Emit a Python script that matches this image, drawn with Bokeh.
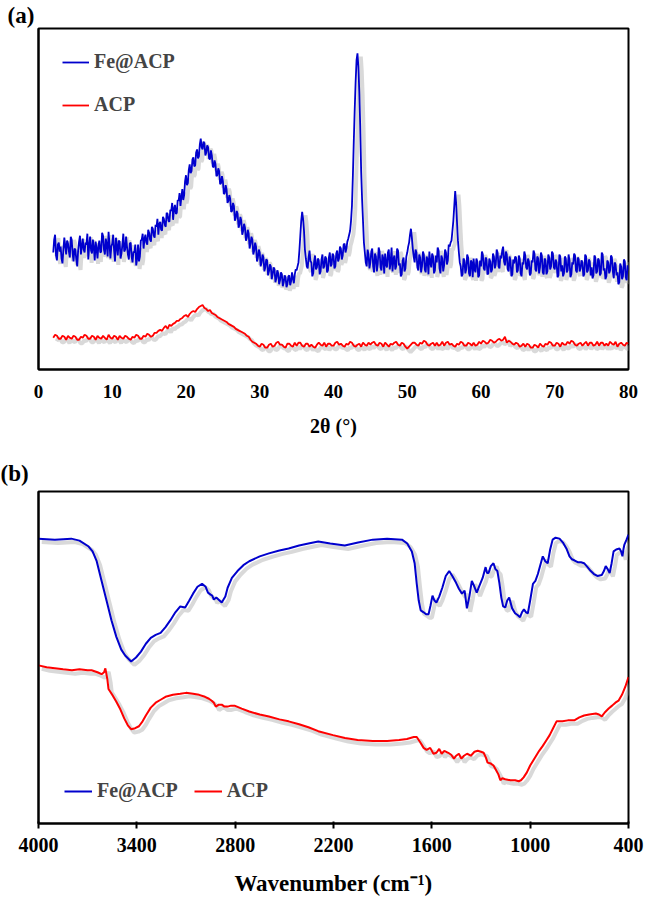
import numpy as np
from bokeh.plotting import figure
from bokeh.models import Range1d, FixedTicker, Legend, LegendItem, ColumnDataSource
from bokeh.layouts import column
from bokeh.transform import dodge
from bokeh.embed import file_html
from bokeh.resources import INLINE

FONT = "Liberation Serif"

# ---------------- (a) XRD data (2θ in degrees, intensity in a.u.) ----------------
xrd_theta_fe = np.arange(2.0, 80.001, 0.125)
xrd_fe_acp = [
    118, 131, 136, 115, 110, 126, 128, 119,  124, 112, 107, 121, 133, 125, 116, 130,
    127, 119, 113, 134, 131, 117, 109, 122,  121, 111, 104, 120, 129, 135, 116, 124,
    132, 121, 118, 128, 126, 137, 111, 125,  134, 120, 117, 131, 123, 110, 129, 122,
    112, 125, 130, 118, 119, 138, 135, 121,  116, 132, 126, 114, 139, 127, 112, 124,
    127, 136, 120, 109, 133, 124, 115, 130,  129, 112, 117, 126, 137, 119, 121, 134,
    124, 116, 111, 127, 128, 114, 108, 119,  118, 126, 105, 112, 126, 109, 114, 130,
    131, 137, 122, 132, 136, 128, 126, 141,  138, 131, 129, 144, 142, 135, 133, 146,
    144, 152, 136, 147, 149, 141, 140, 154,  152, 146, 144, 158, 157, 150, 149, 161,
    160, 168, 151, 162, 166, 157, 158, 171,  170, 178, 165, 174, 182, 171, 176, 190,
    196, 186, 188, 201, 207, 198, 200, 212,  214, 205, 206, 219, 222, 213, 215, 227,
    233, 224, 222, 230, 228, 216, 219, 226,  224, 213, 212, 221, 216, 205, 204, 211,
    207, 195, 196, 203, 200, 187, 188, 195,  190, 177, 178, 186, 182, 168, 170, 176,
    172, 159, 160, 168, 165, 150, 153, 160,  157, 143, 146, 154, 150, 136, 140, 147,
    143, 130, 133, 141, 137, 122, 127, 134,  131, 116, 120, 128, 124, 109, 113, 121,
    118, 104, 108, 116, 113, 99, 103, 111,  110, 95, 99, 106, 104, 91, 96, 103,
    101, 88, 92, 100, 97, 86, 90, 98,  96, 84, 88, 95, 93, 83, 86, 94,
    95, 85, 89, 98, 92, 87, 96, 101,  100, 104, 108, 120, 135, 150, 159, 152,
    140, 121, 112, 104, 102, 113, 120, 109,  108, 94, 97, 109, 115, 101, 103, 112,
    110, 96, 99, 111, 116, 102, 104, 114,  112, 98, 100, 113, 118, 104, 106, 117,
    115, 102, 104, 117, 120, 109, 112, 124,  122, 111, 115, 126, 127, 118, 122, 129,
    132, 136, 140, 150, 165, 195, 230, 262,  290, 312, 319, 305, 280, 245, 200, 172,
    150, 128, 118, 108, 104, 121, 116, 102,  108, 119, 122, 104, 98, 117, 114, 99,
    106, 123, 119, 103, 100, 116, 112, 97,  117, 106, 103, 118, 121, 101, 108, 123,
    99, 111, 115, 101, 104, 122, 120, 105,  107, 94, 96, 110, 113, 99, 102, 114,
    118, 124, 128, 136, 142, 133, 122, 114,  108, 121, 118, 103, 100, 116, 113, 98,
    104, 119, 116, 101, 98, 114, 111, 96,  119, 108, 103, 117, 114, 97, 100, 115,
    108, 123, 120, 102, 97, 115, 112, 99,  105, 121, 118, 106, 110, 126, 124, 128,
    130, 140, 150, 165, 180, 168, 148, 130,  118, 108, 104, 94, 96, 112, 110, 97,
    101, 116, 113, 97, 94, 110, 108, 93,  112, 101, 98, 112, 109, 93, 95, 110,
    104, 119, 116, 102, 100, 113, 111, 96,  97, 112, 109, 98, 101, 117, 114, 102,
    106, 121, 118, 104, 102, 115, 112, 120,  124, 109, 105, 119, 116, 101, 99, 114,
    110, 94, 96, 111, 107, 114, 113, 98,  100, 115, 112, 97, 94, 108, 106, 119,
    115, 103, 101, 112, 109, 95, 97, 110,  108, 120, 117, 101, 99, 114, 112, 97,
    103, 118, 115, 98, 96, 112, 110, 96,  99, 116, 113, 101, 104, 119, 117, 103,
    101, 111, 108, 93, 95, 116, 114, 99,  105, 94, 97, 114, 112, 98, 100, 116,
    110, 93, 96, 108, 106, 117, 115, 100,  98, 113, 111, 99, 102, 110, 108, 94,
    96, 116, 114, 98, 100, 111, 109, 95,  103, 92, 95, 115, 113, 97, 99, 112,
    110, 95, 97, 118, 116, 100, 102, 91,  94, 110, 108, 97, 100, 115, 113, 99,
    92, 108, 106, 95, 98, 86, 88, 107,  104, 91, 94, 111, 109, 93, 90, 105,
    100,
]
xrd_theta_acp = np.arange(2.0, 80.001, 0.25)
xrd_acp = [
    32, 35, 34, 31,  31, 34, 33, 30,  34, 32, 31, 34,  33, 30, 30, 33,  32, 35, 34, 31,
    31, 34, 33, 30,  34, 32, 31, 34,  32, 30, 35, 32,  31, 34, 33, 30,  34, 32, 31, 34,
    33, 31, 30, 33,  32, 35, 34, 31,  31, 34, 33, 36,  35, 33, 34, 37,  37, 39, 40, 39,
    42, 44, 41, 45,  44, 46, 47, 49,  49, 51, 52, 54,  55, 53, 56, 58,  59, 58, 61, 63,
    64, 65, 62, 61,  59, 60, 57, 56,  55, 53, 52, 51,  50, 49, 48, 46,  45, 44, 43, 41,
    40, 39, 38, 37,  36, 34, 33, 30,  28, 27, 26, 24,  23, 26, 25, 22,  22, 25, 26, 23,
    24, 27, 28, 25,  25, 23, 22, 26,  26, 24, 23, 27,  24, 27, 27, 24,  23, 26, 26, 23,
    25, 23, 22, 25,  27, 25, 24, 27,  23, 26, 26, 24,  24, 27, 28, 25,  26, 24, 23, 26,
    25, 28, 27, 24,  23, 25, 26, 23,  27, 25, 24, 27,  25, 27, 28, 25,  24, 27, 26, 23,
    27, 25, 23, 26,  25, 27, 28, 25,  24, 27, 26, 23,  21, 23, 25, 27,  27, 25, 24, 27,
    26, 29, 28, 25,  24, 26, 27, 24,  27, 24, 25, 28,  24, 27, 28, 25,  26, 24, 23, 26,
    25, 28, 27, 24,  24, 27, 26, 24,  27, 24, 25, 28,  26, 29, 28, 26,  27, 30, 29, 27,
    28, 30, 31, 29,  30, 33, 27, 29,  28, 26, 25, 27,  26, 23, 24, 26,  23, 26, 25, 22,
    22, 25, 24, 22,  26, 24, 23, 26,  25, 28, 27, 24,  24, 27, 26, 23,  27, 25, 25, 28,
    26, 29, 28, 25,  24, 26, 27, 24,  26, 28, 24, 27,  27, 24, 25, 28,  24, 27, 27, 24,
    26, 24, 28, 26,  25, 28, 23, 26,  27, 25, 24, 27,  26,
]
xrd_ticks = [0, 10, 20, 30, 40, 50, 60, 70, 80]

# ---------------- (b) FTIR data (wavenumber in cm-1, transmittance in a.u.) ----------------
ftir_wn_fe = [
    4000, 3900, 3800, 3750, 3694, 3670, 3645, 3615, 3585, 3555, 3525, 3495, 3471, 3435,
    3405, 3375, 3345, 3315, 3285, 3255, 3225, 3195, 3165, 3135, 3105, 3080, 3057, 3030,
    3002, 2980, 2966, 2950, 2940, 2930, 2915, 2882, 2860, 2846, 2820, 2786, 2750, 2714,
    2650, 2594, 2530, 2474, 2410, 2353, 2293, 2220, 2131, 2050, 1960, 1873, 1782, 1750,
    1722, 1705, 1692, 1680, 1668, 1650, 1635, 1620, 1608, 1596, 1584, 1572, 1555, 1536,
    1515, 1494, 1475, 1452, 1435, 1416, 1400, 1386, 1370, 1356, 1340, 1326, 1310, 1290,
    1272, 1263, 1254, 1240, 1224, 1212, 1200, 1188, 1176, 1165, 1152, 1140, 1128, 1110,
    1092, 1075, 1062, 1050, 1038, 1025, 1014, 1000, 983, 968, 953, 940, 923, 908, 893,
    878, 863, 845, 821, 800, 779, 760, 745, 731, 710, 690, 671, 650, 630, 611, 590, 563,
    550, 539, 527, 515, 503, 491, 475, 455, 445, 437, 430, 425, 412, 400,
]
ftir_fe_acp = [
    290, 289, 290, 288, 282, 277, 267, 247, 227, 207, 190, 177, 171, 165,
    169, 175, 183, 189, 192, 194, 200, 207, 215, 221, 220, 227, 234, 241,
    244, 241, 235, 233, 232, 228, 230, 225, 231, 240, 250, 257, 263, 267,
    272, 275, 278, 280, 283, 285, 287, 285, 283, 286, 289, 290, 289, 285,
    277, 265, 244, 227, 217, 215, 213, 213, 222, 232, 227, 225, 231, 240,
    252, 257, 252, 245, 239, 234, 237, 219, 232, 247, 241, 235, 242, 250,
    261, 255, 255, 262, 265, 259, 257, 245, 230, 221, 220, 227, 230, 219,
    214, 212, 210, 215, 218, 215, 214, 227, 244, 247, 254, 262, 272, 267, 265,
    279, 289, 291, 290, 286, 280, 272, 269, 268, 266, 266, 265, 261, 257, 254, 252, 253,
    257, 262, 259, 255, 265, 277, 279, 280, 277, 272, 280, 284, 289, 294,
]
ftir_wn_acp = [
    4000, 3950, 3900, 3850, 3796, 3750, 3700, 3676, 3640, 3615, 3600, 3592, 3580, 3573,
    3550, 3525, 3500, 3477, 3455, 3435, 3410, 3387, 3365, 3345, 3315, 3285, 3255, 3225,
    3180, 3135, 3100, 3057, 3020, 2984, 2960, 2943, 2930, 2918, 2900, 2882, 2865, 2846,
    2825, 2804, 2760, 2714, 2650, 2594, 2530, 2474, 2410, 2353, 2293, 2203, 2130, 2053,
    1960, 1873, 1800, 1752, 1710, 1692, 1680, 1668, 1650, 1632, 1610, 1590, 1572, 1555,
    1540, 1524, 1500, 1482, 1465, 1452, 1435, 1420, 1404, 1385, 1362, 1340, 1320, 1300,
    1284, 1270, 1260, 1240, 1224, 1210, 1194, 1182, 1170, 1152, 1120, 1092, 1070, 1056,
    1040, 1020, 1000, 971, 945, 923, 900, 881, 860, 839, 820, 803, 770, 731, 700, 671,
    640, 599, 580, 563, 545, 521, 500, 480, 461, 440, 420, 400,
]
ftir_acp = [
    161, 159, 158, 157, 156, 157, 156, 156, 154, 152, 154, 158, 147, 137,
    131, 124, 116, 107, 100, 96, 97, 99, 104, 110, 118, 123, 126, 129,
    131, 132, 133, 132, 131, 129, 127, 125, 123, 119, 121, 121, 119, 119,
    120, 120, 117, 114, 111, 109, 106, 104, 101, 98, 94, 90, 87, 85,
    84, 84, 85, 86, 88, 88, 85, 82, 77, 75, 77, 71, 72, 76,
    71, 74, 72, 70, 66, 69, 71, 66, 69, 71, 69, 73, 74, 73,
    72, 67, 62, 61, 59, 55, 50, 44, 46, 45, 44, 44, 43, 44,
    47, 52, 59, 67, 74, 79, 85, 90, 97, 104, 104, 104, 105, 105, 108, 110,
    111, 112, 111, 109, 113, 117, 120, 123, 125, 131, 139, 149,
]
ftir_ticks = [4000, 3400, 2800, 2200, 1600, 1000, 400]

BLUE = "#0000CD"
RED = "#FF0000"
SHADOW = "#b4b4b4"


def style(p, ticks, tick_font, tick_in, tick_out, label_standoff):
    p.xgrid.visible = False
    p.ygrid.visible = False
    p.outline_line_color = "black"
    p.outline_line_width = 2
    p.xaxis.ticker = FixedTicker(ticks=ticks)
    p.xaxis.minor_tick_line_color = None
    p.xaxis.major_tick_in = tick_in
    p.xaxis.major_tick_out = tick_out
    p.xaxis.major_tick_line_width = 2
    p.xaxis.axis_line_width = 2
    p.xaxis.major_label_text_font = FONT
    p.xaxis.major_label_text_font_style = "bold"
    p.xaxis.major_label_text_font_size = tick_font
    p.xaxis.major_label_text_color = "black"
    p.xaxis.major_label_standoff = label_standoff
    p.xaxis.axis_label_text_font = FONT
    p.xaxis.axis_label_text_font_style = "bold"
    p.xaxis.axis_label_text_color = "black"
    p.yaxis.ticker = FixedTicker(ticks=[])
    p.yaxis.minor_tick_line_color = None
    p.yaxis.major_tick_line_color = None
    p.yaxis.major_label_text_font_size = "0px"
    p.yaxis.axis_line_width = 2


def panel_title(p, text, offset, standoff):
    p.title.text = text
    p.title.align = "left"
    p.title.offset = offset
    p.title.standoff = standoff
    p.title.text_font = FONT
    p.title.text_font_style = "bold"
    p.title.text_font_size = "23px"
    p.title.text_color = "black"


# ---------------- panel (a) ----------------
p1 = figure(width=645, height=447, x_range=Range1d(0, 80), y_range=Range1d(0, 344),
            output_backend="svg", toolbar_location=None,
            min_border_left=31, min_border_right=17, min_border_top=25, min_border_bottom=78)
style(p1, xrd_ticks, "19px", 0, 0, 15)
panel_title(p1, "(a)", -31, 1)
p1.xaxis.axis_label = "2θ (°)"
p1.xaxis.axis_label_text_font_size = "20px"
p1.xaxis.axis_label_standoff = 14

src_fe = ColumnDataSource(dict(x=xrd_theta_fe, y=xrd_fe_acp))
src_acp = ColumnDataSource(dict(x=xrd_theta_acp, y=xrd_acp))
for src in (src_fe, src_acp):
    p1.line(x=dodge("x", 0.45), y=dodge("y", -3.5), source=src, line_color=SHADOW,
            line_width=4, line_alpha=0.5)
r1b = p1.line("x", "y", source=src_fe, line_color=BLUE, line_width=1.8)
r1r = p1.line("x", "y", source=src_acp, line_color=RED, line_width=1.8)

leg1 = Legend(items=[LegendItem(label="Fe@ACP", renderers=[r1b]),
                     LegendItem(label="ACP", renderers=[r1r])],
              location=(24, 253), orientation="vertical",
              label_text_font=FONT, label_text_font_style="bold", label_text_font_size="20px",
              glyph_width=27, glyph_height=20, label_height=20, spacing=20,
              padding=0, margin=0, border_line_color=None, background_fill_alpha=0,
              label_standoff=5)
p1.add_layout(leg1)

# ---------------- panel (b) ----------------
p2 = figure(width=645, height=451, x_range=Range1d(4000, 400), y_range=Range1d(0, 338),
            output_backend="svg", toolbar_location=None,
            min_border_left=38, min_border_right=15, min_border_top=44, min_border_bottom=69)
style(p2, ftir_ticks, "20px", 2, 5, 9)
panel_title(p2, "(b)", -38, 12)
p2.xaxis.axis_label = "Wavenumber (cm⁻¹)"
p2.xaxis.axis_label_text_font_size = "23px"
p2.xaxis.axis_label_standoff = 16

src_fe2 = ColumnDataSource(dict(x=ftir_wn_fe, y=ftir_fe_acp))
src_acp2 = ColumnDataSource(dict(x=ftir_wn_acp, y=ftir_acp))
for src in (src_fe2, src_acp2):
    p2.line(x=dodge("x", -20), y=dodge("y", -3.5), source=src, line_color=SHADOW,
            line_width=4, line_alpha=0.5)
r2b = p2.line("x", "y", source=src_fe2, line_color=BLUE, line_width=2)
r2r = p2.line("x", "y", source=src_acp2, line_color=RED, line_width=2)

leg2 = Legend(items=[LegendItem(label="Fe@ACP", renderers=[r2b]),
                     LegendItem(label="ACP", renderers=[r2r])],
              location=(26, 21), orientation="horizontal",
              label_text_font=FONT, label_text_font_style="bold", label_text_font_size="20px",
              glyph_width=28, glyph_height=20, label_height=20, spacing=16,
              padding=0, margin=0, border_line_color=None, background_fill_alpha=0,
              label_standoff=5)
p2.add_layout(leg2)

layout = column(p1, p2)
open("out.html", "w").write(file_html(layout, INLINE))
